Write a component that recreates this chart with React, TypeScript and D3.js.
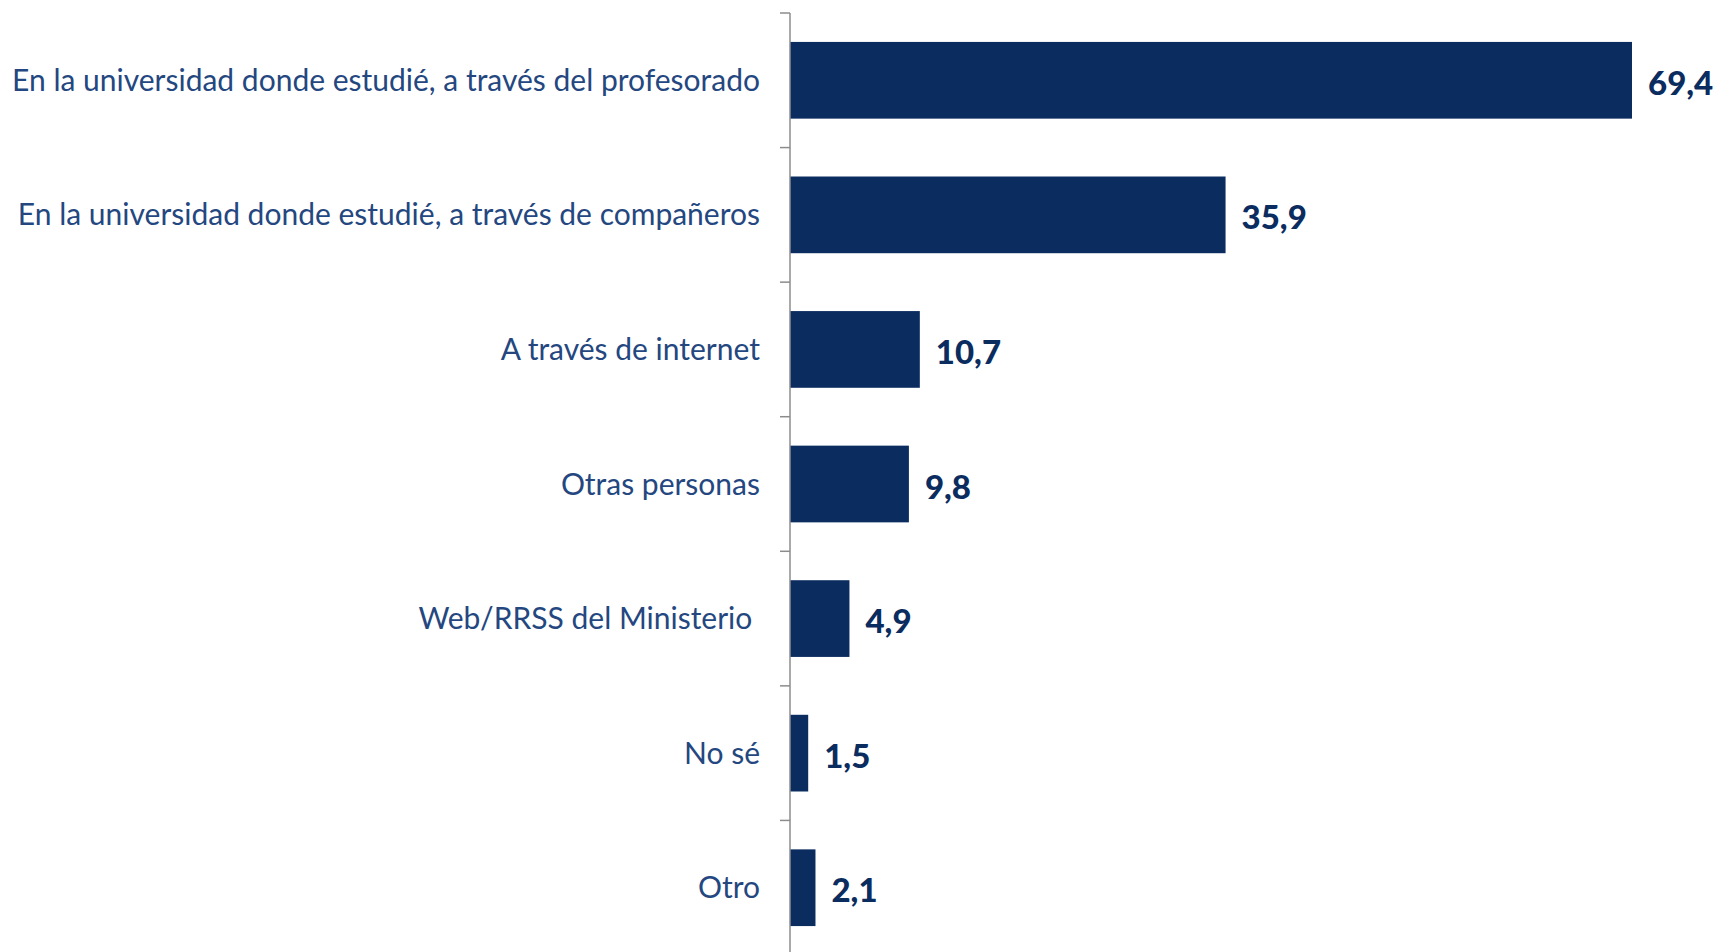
import React from 'react';
import * as d3 from 'd3';

const categories = [
  'En la universidad donde estudié, a través del profesorado',
  'En la universidad donde estudié, a través de compañeros',
  'A través de internet',
  'Otras personas',
  'Web/RRSS del Ministerio ',
  'No sé',
  'Otro',
];
const values = [69.4, 35.9, 10.7, 9.8, 4.9, 1.5, 2.1];

const W = 1717, H = 952;
const axisX = 790;

export default function App() {
  const x = d3.scaleLinear().domain([0, 69.4]).range([axisX, 1632]);
  const y = d3.scaleBand<string>().domain(categories).range([13, 955]).paddingInner(0.43).paddingOuter(0.215);
  const step = y.step();
  const fmt = (v: number) => v.toFixed(1).replace('.', ',');
  const bounds = d3.range(categories.length + 1).map(i => 13 + i * step);

  return (
    <div style={{ position: 'absolute', left: 0, top: 0 }}>
      <svg width={W} height={H} style={{ display: 'block', background: '#fff' }}>
        {categories.map((c, i) => (
          <rect key={c} x={axisX} y={y(c)} width={x(values[i]) - axisX} height={y.bandwidth()} fill="#0b2c5f" />
        ))}
        <line x1={axisX} x2={axisX} y1={13} y2={H} stroke="#8c8c8c" strokeWidth={1.5} />
        {bounds.map((b, i) => (
          <line key={i} x1={axisX - 10} x2={axisX} y1={b} y2={b} stroke="#8c8c8c" strokeWidth={1.5} />
        ))}
        {categories.map(c => (
          <text key={c} x={760} y={(y(c) ?? 0) + y.bandwidth() / 2} dy="0.35em" textAnchor="end"
            fontFamily="Lato, 'Open Sans', sans-serif" fontSize={30} fill="#24477f" style={{ whiteSpace: 'pre' }}>
            {c}
          </text>
        ))}
        {categories.map((c, i) => (
          <text key={c} x={x(values[i]) + 16} y={(y(c) ?? 0) + y.bandwidth() / 2 + 3} dy="0.35em"
            fontFamily="Lato, 'Open Sans', sans-serif" fontSize={33} fontWeight={900} fill="#0b2c5f">
            {fmt(values[i])}
          </text>
        ))}
      </svg>
    </div>
  );
}
